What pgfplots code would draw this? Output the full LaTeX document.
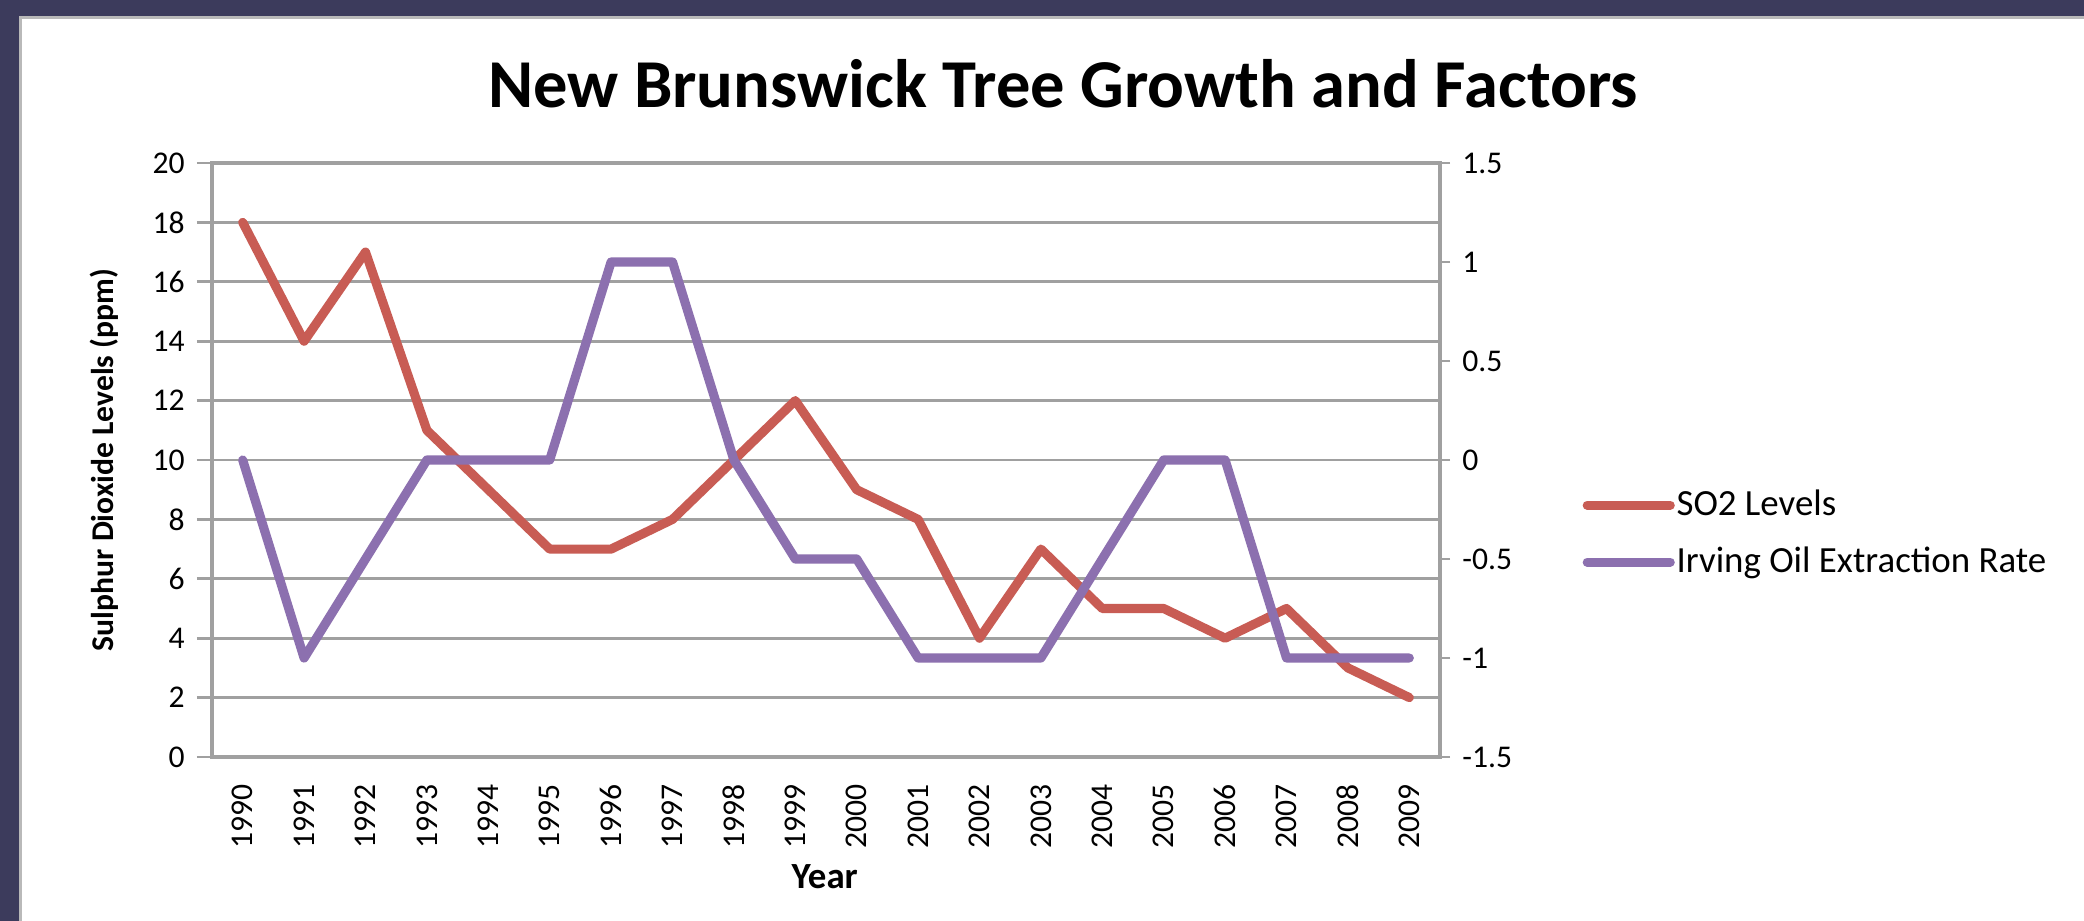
\documentclass[border=0pt]{standalone}
\usepackage{pgfplots}
\pgfplotsset{compat=1.18}
\usepackage{fontspec}
\setmainfont{Carlito}
\definecolor{frame}{RGB}{60,59,92}
\definecolor{so2}{RGB}{200,92,84}
\definecolor{oil}{RGB}{140,112,175}
\definecolor{axgray}{RGB}{160,160,160}
\begin{document}
\begin{tikzpicture}
\useasboundingbox (0,0) rectangle (20.84,9.21);
\fill[white] (0,0) rectangle (20.84,9.21);
\fill[frame] (0,0) rectangle (0.19,9.21);
\fill[frame] (0,9.05) rectangle (20.84,9.21);
\fill[gray!55] (0.19,0) rectangle (0.22,9.05);
\fill[gray!55] (0.19,9.02) rectangle (20.84,9.05);
\node[font=\fontsize{19.5}{23}\selectfont\bfseries] at (10.63,8.37) {New Brunswick Tree Growth and Factors};
\begin{axis}[
  at={(2.12cm,1.64cm)}, anchor=south west, scale only axis,
  width=12.28cm, height=5.94cm,
  xmin=-0.5, xmax=19.5, ymin=0, ymax=20,
  xtick={0,...,19},
  xticklabels={1990,1991,1992,1993,1994,1995,1996,1997,1998,1999,2000,2001,2002,2003,2004,2005,2006,2007,2008,2009},
  ytick={0,2,...,20},
  ytick pos=left, xtick pos=bottom,
  /pgf/number format/assume math mode=true,
  ymajorgrids, grid style={axgray, line width=0.8pt},
  axis line style={axgray, line width=1pt},
  tick style={axgray, line width=0.8pt},
  major tick length=0.15cm, tick align=outside,
  xtick style={draw=none},
  ticklabel style={font=\fontsize{9}{10.8}\selectfont},
  xticklabel style={rotate=90, anchor=east},
  ylabel={\bfseries Sulphur Dioxide Levels (ppm)},
  ylabel style={font=\fontsize{9}{10.8}\selectfont, at={(rel axis cs:-0.088,0.5)}, anchor=center},
  xlabel={\bfseries Year},
  xlabel style={font=\fontsize{10.5}{12.6}\selectfont, at={(rel axis cs:0.499,-0.202)}, anchor=center},
]
\addplot[so2, line width=2.6pt, line join=round, line cap=round] coordinates {
(0,18) (1,14) (2,17) (3,11) (4,9) (5,7) (6,7) (7,8) (8,10) (9,12)
(10,9) (11,8) (12,4) (13,7) (14,5) (15,5) (16,4) (17,5) (18,3) (19,2)};
\end{axis}
\begin{axis}[
  at={(2.12cm,1.64cm)}, anchor=south west, scale only axis,
  width=12.28cm, height=5.94cm,
  xmin=-0.5, xmax=19.5, ymin=-1.5, ymax=1.5,
  axis y line*=right, axis x line=none,
  ytick={-1.5,-1,-0.5,0,0.5,1,1.5},
  yticklabels={-1.5,-1,-0.5,0,0.5,1,1.5},
  axis line style={axgray, line width=1pt, -},
  tick style={axgray, line width=0.8pt},
  major tick length=0.1cm, tick align=outside,
  ticklabel style={font=\fontsize{9}{10.8}\selectfont},
  yticklabel style={anchor=west},
  legend style={draw=none, fill=none, at={(rel axis cs:1.1156,0.376)}, anchor=west,
    font=\fontsize{10.5}{12.6}\selectfont, row sep=0.26cm, inner sep=0pt,
    nodes={inner xsep=0.5pt, inner ysep=0pt}},
  legend cell align=left,
  legend image code/.code={\draw[#1] (0cm,0cm) -- (0.83cm,0cm);},
]
\addlegendimage{so2, line width=2.6pt, line cap=round}
\addlegendentry{SO2 Levels}
\addplot[oil, line width=2.6pt, line join=round, line cap=round] coordinates {
(0,0) (1,-1) (2,-0.5) (3,0) (4,0) (5,0) (6,1) (7,1) (8,0) (9,-0.5)
(10,-0.5) (11,-1) (12,-1) (13,-1) (14,-0.5) (15,0) (16,0) (17,-1) (18,-1) (19,-1)};
\addlegendentry{Irving Oil Extraction Rate}
\end{axis}
\end{tikzpicture}
\end{document}
